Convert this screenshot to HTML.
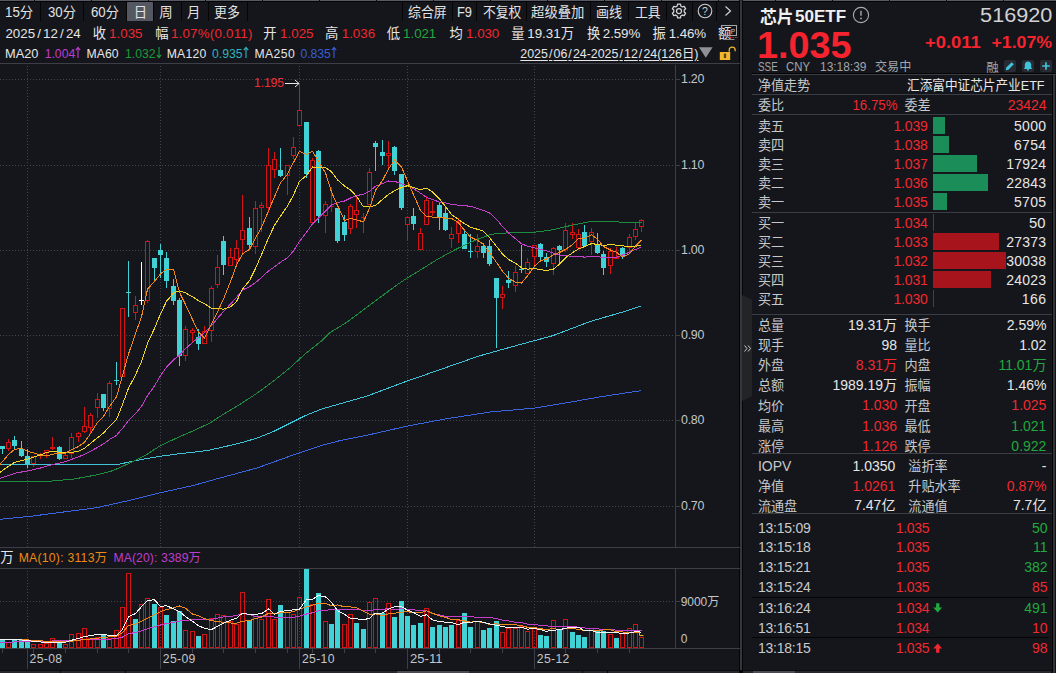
<!DOCTYPE html>
<html lang="zh-CN"><head><meta charset="utf-8"><title>芯片50ETF 516920</title>
<style>
html,body{margin:0;padding:0;background:#14161b;}
body{width:1056px;height:673px;position:relative;overflow:hidden;font-family:"Liberation Sans","Noto Sans CJK SC",sans-serif;}
.t{position:absolute;white-space:nowrap;line-height:1;}
</style></head>
<body>
<div style="position:absolute;left:0px;top:0px;width:1056px;height:1px;background:#585b66;"></div>
<div style="position:absolute;left:0px;top:1px;width:1056px;height:1px;background:#050506;"></div>
<div style="position:absolute;left:34px;top:0px;width:1px;height:1px;background:#0a0a0c;"></div>
<div style="position:absolute;left:91px;top:0px;width:1px;height:1px;background:#0a0a0c;"></div>
<div style="position:absolute;left:148px;top:0px;width:1px;height:1px;background:#0a0a0c;"></div>
<div style="position:absolute;left:205px;top:0px;width:1px;height:1px;background:#0a0a0c;"></div>
<div style="position:absolute;left:262px;top:0px;width:1px;height:1px;background:#0a0a0c;"></div>
<div style="position:absolute;left:319px;top:0px;width:1px;height:1px;background:#0a0a0c;"></div>
<div style="position:absolute;left:376px;top:0px;width:1px;height:1px;background:#0a0a0c;"></div>
<div style="position:absolute;left:433px;top:0px;width:1px;height:1px;background:#0a0a0c;"></div>
<div style="position:absolute;left:490px;top:0px;width:1px;height:1px;background:#0a0a0c;"></div>
<div style="position:absolute;left:547px;top:0px;width:1px;height:1px;background:#0a0a0c;"></div>
<div style="position:absolute;left:604px;top:0px;width:1px;height:1px;background:#0a0a0c;"></div>
<div style="position:absolute;left:661px;top:0px;width:1px;height:1px;background:#0a0a0c;"></div>
<div style="position:absolute;left:718px;top:0px;width:1px;height:1px;background:#0a0a0c;"></div>
<div style="position:absolute;left:775px;top:0px;width:1px;height:1px;background:#0a0a0c;"></div>
<div style="position:absolute;left:832px;top:0px;width:1px;height:1px;background:#0a0a0c;"></div>
<div style="position:absolute;left:889px;top:0px;width:1px;height:1px;background:#0a0a0c;"></div>
<div style="position:absolute;left:946px;top:0px;width:1px;height:1px;background:#0a0a0c;"></div>
<div style="position:absolute;left:1003px;top:0px;width:1px;height:1px;background:#0a0a0c;"></div>
<div style="position:absolute;left:40px;top:1px;width:1px;height:20px;background:#050506;"></div>
<div style="position:absolute;left:83px;top:1px;width:1px;height:20px;background:#050506;"></div>
<div style="position:absolute;left:126px;top:1px;width:1px;height:20px;background:#050506;"></div>
<div style="position:absolute;left:153px;top:1px;width:1px;height:20px;background:#050506;"></div>
<div style="position:absolute;left:181px;top:1px;width:1px;height:20px;background:#050506;"></div>
<div style="position:absolute;left:208px;top:1px;width:1px;height:20px;background:#050506;"></div>
<div style="position:absolute;left:247px;top:1px;width:1px;height:20px;background:#050506;"></div>
<div style="position:absolute;left:402px;top:1px;width:1px;height:20px;background:#050506;"></div>
<div style="position:absolute;left:452px;top:1px;width:1px;height:20px;background:#050506;"></div>
<div style="position:absolute;left:476px;top:1px;width:1px;height:20px;background:#050506;"></div>
<div style="position:absolute;left:526px;top:1px;width:1px;height:20px;background:#050506;"></div>
<div style="position:absolute;left:590px;top:1px;width:1px;height:20px;background:#050506;"></div>
<div style="position:absolute;left:628px;top:1px;width:1px;height:20px;background:#050506;"></div>
<div style="position:absolute;left:666px;top:1px;width:1px;height:20px;background:#050506;"></div>
<div style="position:absolute;left:692px;top:1px;width:1px;height:20px;background:#050506;"></div>
<div style="position:absolute;left:716px;top:1px;width:1px;height:20px;background:#050506;"></div>
<div style="position:absolute;left:127px;top:2px;width:26px;height:19px;background:#555762;"></div>
<div style="position:absolute;left:739px;top:0px;width:1px;height:673px;background:#050506;"></div>
<div style="position:absolute;left:740px;top:0px;width:2px;height:673px;background:#35363d;"></div>
<div style="position:absolute;left:742px;top:0px;width:1px;height:673px;background:#050506;"></div>
<svg width="12" height="110" style="position:absolute;left:742px;top:294px" viewBox="0 0 12 110"><path d="M0 1L10 6V102L0 107Z" fill="#232328"/><path d="M2.5 51.5l2.5 3l-2.5 3M6 51.5l2.5 3l-2.5 3" stroke="#c8c8cc" stroke-width="1" fill="none"/></svg>
<div style="position:absolute;left:752px;top:73px;width:304px;height:1px;background:#050506;"></div>
<div style="position:absolute;left:752px;top:74px;width:304px;height:1px;background:#3b3d44;"></div>
<div style="position:absolute;left:752px;top:94px;width:300px;height:1px;background:#3b3d44;"></div>
<div style="position:absolute;left:752px;top:114px;width:300px;height:1px;background:#3b3d44;"></div>
<div style="position:absolute;left:752px;top:212px;width:300px;height:1px;background:#3b3d44;"></div>
<div style="position:absolute;left:752px;top:314px;width:300px;height:1px;background:#3b3d44;"></div>
<div style="position:absolute;left:752px;top:453px;width:300px;height:1px;background:#3b3d44;"></div>
<div style="position:absolute;left:752px;top:513px;width:300px;height:1px;background:#3b3d44;"></div>
<div style="position:absolute;left:752px;top:597px;width:297px;height:1px;background:#050506;"></div>
<div style="position:absolute;left:752px;top:637px;width:297px;height:1px;background:#050506;"></div>
<div style="position:absolute;left:933px;top:117px;width:12.1px;height:17px;background:#1a8d58;"></div>
<div style="position:absolute;left:933px;top:136px;width:16.4px;height:17px;background:#1a8d58;"></div>
<div style="position:absolute;left:933px;top:155px;width:43.5px;height:17px;background:#1a8d58;"></div>
<div style="position:absolute;left:933px;top:174px;width:55.4px;height:17px;background:#1a8d58;"></div>
<div style="position:absolute;left:933px;top:193px;width:13.8px;height:17px;background:#1a8d58;"></div>
<div style="position:absolute;left:933px;top:214px;width:1px;height:17px;background:#a8141c;"></div>
<div style="position:absolute;left:933px;top:233px;width:66.4px;height:17px;background:#a8141c;"></div>
<div style="position:absolute;left:933px;top:252px;width:72.8px;height:17px;background:#a8141c;"></div>
<div style="position:absolute;left:933px;top:271px;width:58.3px;height:17px;background:#a8141c;"></div>
<div style="position:absolute;left:933px;top:290px;width:1px;height:17px;background:#a8141c;"></div>
<div style="position:absolute;left:0px;top:670px;width:1056px;height:1px;background:#0c0d10;"></div>
<div style="position:absolute;left:0px;top:671px;width:1056px;height:2px;background:#26272d;"></div>
<div style="position:absolute;left:397px;top:671px;width:72px;height:2px;background:#4a4b55;"></div>
<div style="position:absolute;left:753px;top:671px;width:42px;height:2px;background:#4a4b55;"></div>
<div style="position:absolute;left:1051px;top:671px;width:5px;height:2px;background:#14161b;"></div>
<div style="position:absolute;left:60px;top:671px;width:1px;height:2px;background:#050506;"></div>
<div style="position:absolute;left:125px;top:671px;width:1px;height:2px;background:#050506;"></div>
<div style="position:absolute;left:582px;top:671px;width:1px;height:2px;background:#050506;"></div>
<div style="position:absolute;left:607px;top:671px;width:1px;height:2px;background:#050506;"></div>
<div style="position:absolute;left:739px;top:670px;width:4px;height:3px;background:#050506;"></div>
<div style="position:absolute;left:1052px;top:75px;width:1px;height:598px;background:#050506;"></div>
<div style="position:absolute;left:1053px;top:75px;width:2px;height:598px;background:#34353b;"></div>
<div style="position:absolute;left:1055px;top:75px;width:1px;height:598px;background:#101216;"></div>
<svg width="740" height="673" viewBox="0 0 740 673" style="position:absolute;left:0;top:0">
<g stroke="#43454c" stroke-width="1" stroke-dasharray="1 2" shape-rendering="crispEdges"><line x1="0" y1="79.5" x2="675" y2="79.5"/><line x1="0" y1="165.5" x2="675" y2="165.5"/><line x1="0" y1="250.5" x2="675" y2="250.5"/><line x1="0" y1="335.5" x2="675" y2="335.5"/><line x1="0" y1="420.5" x2="675" y2="420.5"/><line x1="0" y1="506.5" x2="675" y2="506.5"/><line x1="0" y1="601.5" x2="675" y2="601.5"/><line x1="27.5" y1="66" x2="27.5" y2="547"/><line x1="27.5" y1="571" x2="27.5" y2="648"/><line x1="160.5" y1="66" x2="160.5" y2="547"/><line x1="160.5" y1="571" x2="160.5" y2="648"/><line x1="299.5" y1="66" x2="299.5" y2="547"/><line x1="299.5" y1="571" x2="299.5" y2="648"/><line x1="407.5" y1="66" x2="407.5" y2="547"/><line x1="407.5" y1="571" x2="407.5" y2="648"/><line x1="534.5" y1="66" x2="534.5" y2="547"/><line x1="534.5" y1="571" x2="534.5" y2="648"/></g>
<g stroke="#3e3f46" stroke-width="1" shape-rendering="crispEdges"><line x1="0" y1="63.5" x2="740" y2="63.5"/><line x1="0" y1="547.5" x2="740" y2="547.5"/><line x1="0" y1="568.5" x2="740" y2="568.5"/><line x1="0" y1="648.5" x2="740" y2="648.5"/><line x1="675.5" y1="65" x2="675.5" y2="547"/><line x1="675.5" y1="569" x2="675.5" y2="648"/><line x1="676" y1="79.5" x2="680" y2="79.5"/><line x1="676" y1="165.5" x2="680" y2="165.5"/><line x1="676" y1="250.5" x2="680" y2="250.5"/><line x1="676" y1="335.5" x2="680" y2="335.5"/><line x1="676" y1="420.5" x2="680" y2="420.5"/><line x1="676" y1="506.5" x2="680" y2="506.5"/><line x1="676" y1="601.5" x2="680" y2="601.5"/><line x1="27.5" y1="649" x2="27.5" y2="669"/><line x1="160.5" y1="649" x2="160.5" y2="669"/><line x1="299.5" y1="649" x2="299.5" y2="669"/><line x1="407.5" y1="649" x2="407.5" y2="669"/><line x1="534.5" y1="649" x2="534.5" y2="669"/><line x1="2.5" y1="649" x2="2.5" y2="653"/><line x1="33.5" y1="649" x2="33.5" y2="653"/><line x1="65.5" y1="649" x2="65.5" y2="653"/><line x1="97.5" y1="649" x2="97.5" y2="653"/><line x1="128.5" y1="649" x2="128.5" y2="653"/><line x1="192.5" y1="649" x2="192.5" y2="653"/><line x1="223.5" y1="649" x2="223.5" y2="653"/><line x1="255.5" y1="649" x2="255.5" y2="653"/><line x1="287.5" y1="649" x2="287.5" y2="653"/><line x1="312.5" y1="649" x2="312.5" y2="653"/><line x1="344.5" y1="649" x2="344.5" y2="653"/><line x1="375.5" y1="649" x2="375.5" y2="653"/><line x1="439.5" y1="649" x2="439.5" y2="653"/><line x1="470.5" y1="649" x2="470.5" y2="653"/><line x1="502.5" y1="649" x2="502.5" y2="653"/><line x1="565.5" y1="649" x2="565.5" y2="653"/><line x1="597.5" y1="649" x2="597.5" y2="653"/><line x1="629.5" y1="649" x2="629.5" y2="653"/></g>
<g shape-rendering="crispEdges"><rect x="2" y="446" width="1" height="8" fill="#40d2d4"/><rect x="0" y="446" width="5" height="3" fill="#40d2d4"/><rect x="8" y="439" width="1" height="3" fill="#d41414"/><rect x="8" y="449" width="1" height="2" fill="#d41414"/><rect x="6.5" y="442.5" width="4" height="6" fill="#14161b" stroke="#d41414" stroke-width="1"/><rect x="14" y="436" width="1" height="13" fill="#40d2d4"/><rect x="12" y="440" width="5" height="6" fill="#40d2d4"/><rect x="21" y="441" width="1" height="16" fill="#40d2d4"/><rect x="19" y="449" width="5" height="7" fill="#40d2d4"/><rect x="27" y="449" width="1" height="19" fill="#40d2d4"/><rect x="25" y="456" width="5" height="8" fill="#40d2d4"/><rect x="33" y="464" width="1" height="3" fill="#d41414"/><rect x="31.5" y="456.5" width="4" height="7" fill="#14161b" stroke="#d41414" stroke-width="1"/><rect x="40" y="453" width="1" height="1" fill="#d41414"/><rect x="40" y="456" width="1" height="3" fill="#d41414"/><rect x="38.5" y="454.5" width="4" height="1" fill="#14161b" stroke="#d41414" stroke-width="1"/><rect x="46" y="453" width="1" height="5" fill="#d41414"/><rect x="44.5" y="450.5" width="4" height="2" fill="#14161b" stroke="#d41414" stroke-width="1"/><rect x="52" y="437" width="1" height="13" fill="#d41414"/><rect x="50" y="447" width="5" height="2" fill="#d41414"/><rect x="59" y="446" width="1" height="14" fill="#40d2d4"/><rect x="57" y="447" width="5" height="12" fill="#40d2d4"/><rect x="65" y="452" width="1" height="3" fill="#d41414"/><rect x="63.5" y="455.5" width="4" height="3" fill="#14161b" stroke="#d41414" stroke-width="1"/><rect x="71" y="433" width="1" height="4" fill="#d41414"/><rect x="71" y="454" width="1" height="4" fill="#d41414"/><rect x="69.5" y="437.5" width="4" height="16" fill="#14161b" stroke="#d41414" stroke-width="1"/><rect x="78" y="432" width="1" height="1" fill="#d41414"/><rect x="78" y="437" width="1" height="5" fill="#d41414"/><rect x="76.5" y="433.5" width="4" height="3" fill="#14161b" stroke="#d41414" stroke-width="1"/><rect x="84" y="407" width="1" height="19" fill="#d41414"/><rect x="84" y="432" width="1" height="1" fill="#d41414"/><rect x="82.5" y="426.5" width="4" height="5" fill="#14161b" stroke="#d41414" stroke-width="1"/><rect x="90" y="413" width="1" height="2" fill="#d41414"/><rect x="90" y="428" width="1" height="5" fill="#d41414"/><rect x="88.5" y="415.5" width="4" height="12" fill="#14161b" stroke="#d41414" stroke-width="1"/><rect x="97" y="393" width="1" height="6" fill="#d41414"/><rect x="97" y="408" width="1" height="10" fill="#d41414"/><rect x="95.5" y="399.5" width="4" height="8" fill="#14161b" stroke="#d41414" stroke-width="1"/><rect x="103" y="394" width="1" height="17" fill="#40d2d4"/><rect x="101" y="394" width="5" height="14" fill="#40d2d4"/><rect x="109" y="381" width="1" height="2" fill="#d41414"/><rect x="109" y="409" width="1" height="8" fill="#d41414"/><rect x="107.5" y="383.5" width="4" height="25" fill="#14161b" stroke="#d41414" stroke-width="1"/><rect x="116" y="362" width="1" height="23" fill="#40d2d4"/><rect x="114" y="380" width="5" height="1" fill="#40d2d4"/><rect x="120.5" y="308.5" width="4" height="68" fill="#14161b" stroke="#d41414" stroke-width="1"/><rect x="128" y="261" width="1" height="56" fill="#40d2d4"/><rect x="126" y="292" width="5" height="1" fill="#40d2d4"/><rect x="135" y="296" width="1" height="9" fill="#d41414"/><rect x="135" y="313" width="1" height="7" fill="#d41414"/><rect x="133.5" y="305.5" width="4" height="7" fill="#14161b" stroke="#d41414" stroke-width="1"/><rect x="141" y="262" width="1" height="43" fill="#ffffff"/><rect x="139" y="300" width="5" height="1" fill="#ffffff"/><rect x="147" y="240" width="1" height="1" fill="#d41414"/><rect x="147" y="301" width="1" height="2" fill="#d41414"/><rect x="145.5" y="241.5" width="4" height="59" fill="#14161b" stroke="#d41414" stroke-width="1"/><rect x="154" y="258" width="1" height="22" fill="#40d2d4"/><rect x="152" y="258" width="5" height="10" fill="#40d2d4"/><rect x="160" y="244" width="1" height="34" fill="#40d2d4"/><rect x="158" y="250" width="5" height="5" fill="#40d2d4"/><rect x="166" y="252" width="1" height="36" fill="#40d2d4"/><rect x="164" y="258" width="5" height="23" fill="#40d2d4"/><rect x="173" y="279" width="1" height="26" fill="#40d2d4"/><rect x="171" y="286" width="5" height="15" fill="#40d2d4"/><rect x="179" y="298" width="1" height="68" fill="#40d2d4"/><rect x="177" y="300" width="5" height="56" fill="#40d2d4"/><rect x="185" y="326" width="1" height="3" fill="#d41414"/><rect x="185" y="356" width="1" height="5" fill="#d41414"/><rect x="183.5" y="329.5" width="4" height="26" fill="#14161b" stroke="#d41414" stroke-width="1"/><rect x="192" y="328" width="1" height="2" fill="#d41414"/><rect x="192" y="333" width="1" height="9" fill="#d41414"/><rect x="190.5" y="330.5" width="4" height="2" fill="#14161b" stroke="#d41414" stroke-width="1"/><rect x="198" y="329" width="1" height="21" fill="#40d2d4"/><rect x="196" y="337" width="5" height="7" fill="#40d2d4"/><rect x="204" y="326" width="1" height="5" fill="#d41414"/><rect x="202.5" y="331.5" width="4" height="12" fill="#14161b" stroke="#d41414" stroke-width="1"/><rect x="211" y="286" width="1" height="2" fill="#d41414"/><rect x="211" y="331" width="1" height="11" fill="#d41414"/><rect x="209.5" y="288.5" width="4" height="42" fill="#14161b" stroke="#d41414" stroke-width="1"/><rect x="217" y="255" width="1" height="12" fill="#d41414"/><rect x="217" y="285" width="1" height="3" fill="#d41414"/><rect x="215.5" y="267.5" width="4" height="17" fill="#14161b" stroke="#d41414" stroke-width="1"/><rect x="223" y="236" width="1" height="39" fill="#40d2d4"/><rect x="221" y="241" width="5" height="24" fill="#40d2d4"/><rect x="230" y="248" width="1" height="9" fill="#d41414"/><rect x="228.5" y="257.5" width="4" height="8" fill="#14161b" stroke="#d41414" stroke-width="1"/><rect x="236" y="240" width="1" height="8" fill="#d41414"/><rect x="236" y="260" width="1" height="5" fill="#d41414"/><rect x="234.5" y="248.5" width="4" height="11" fill="#14161b" stroke="#d41414" stroke-width="1"/><rect x="242" y="195" width="1" height="35" fill="#d41414"/><rect x="242" y="240" width="1" height="13" fill="#d41414"/><rect x="240.5" y="230.5" width="4" height="9" fill="#14161b" stroke="#d41414" stroke-width="1"/><rect x="249" y="217" width="1" height="31" fill="#40d2d4"/><rect x="247" y="228" width="5" height="17" fill="#40d2d4"/><rect x="255" y="201" width="1" height="7" fill="#d41414"/><rect x="255" y="247" width="1" height="7" fill="#d41414"/><rect x="253.5" y="208.5" width="4" height="38" fill="#14161b" stroke="#d41414" stroke-width="1"/><rect x="261" y="202" width="1" height="3" fill="#d41414"/><rect x="261" y="208" width="1" height="24" fill="#d41414"/><rect x="259.5" y="205.5" width="4" height="2" fill="#14161b" stroke="#d41414" stroke-width="1"/><rect x="268" y="148" width="1" height="17" fill="#d41414"/><rect x="268" y="208" width="1" height="5" fill="#d41414"/><rect x="266.5" y="165.5" width="4" height="42" fill="#14161b" stroke="#d41414" stroke-width="1"/><rect x="274" y="152" width="1" height="7" fill="#d41414"/><rect x="274" y="170" width="1" height="8" fill="#d41414"/><rect x="272.5" y="159.5" width="4" height="10" fill="#14161b" stroke="#d41414" stroke-width="1"/><rect x="280" y="148" width="1" height="29" fill="#40d2d4"/><rect x="278" y="170" width="5" height="6" fill="#40d2d4"/><rect x="287" y="176" width="1" height="19" fill="#d41414"/><rect x="285.5" y="165.5" width="4" height="10" fill="#14161b" stroke="#d41414" stroke-width="1"/><rect x="293" y="137" width="1" height="10" fill="#d41414"/><rect x="293" y="156" width="1" height="3" fill="#d41414"/><rect x="291.5" y="147.5" width="4" height="8" fill="#14161b" stroke="#d41414" stroke-width="1"/><rect x="299" y="83" width="1" height="27" fill="#d41414"/><rect x="297.5" y="110.5" width="4" height="15" fill="#14161b" stroke="#d41414" stroke-width="1"/><rect x="306" y="122" width="1" height="56" fill="#40d2d4"/><rect x="304" y="122" width="5" height="52" fill="#40d2d4"/><rect x="312" y="158" width="1" height="2" fill="#d41414"/><rect x="312" y="223" width="1" height="2" fill="#d41414"/><rect x="310.5" y="160.5" width="4" height="62" fill="#14161b" stroke="#d41414" stroke-width="1"/><rect x="318" y="150" width="1" height="73" fill="#40d2d4"/><rect x="316" y="151" width="5" height="65" fill="#40d2d4"/><rect x="325" y="201" width="1" height="3" fill="#d41414"/><rect x="325" y="216" width="1" height="17" fill="#d41414"/><rect x="323.5" y="204.5" width="4" height="11" fill="#14161b" stroke="#d41414" stroke-width="1"/><rect x="331" y="187" width="1" height="25" fill="#d41414"/><rect x="329" y="206" width="5" height="1" fill="#d41414"/><rect x="337" y="208" width="1" height="35" fill="#40d2d4"/><rect x="335" y="208" width="5" height="33" fill="#40d2d4"/><rect x="344" y="215" width="1" height="26" fill="#40d2d4"/><rect x="342" y="222" width="5" height="13" fill="#40d2d4"/><rect x="350" y="204" width="1" height="2" fill="#d41414"/><rect x="350" y="229" width="1" height="5" fill="#d41414"/><rect x="348.5" y="206.5" width="4" height="22" fill="#14161b" stroke="#d41414" stroke-width="1"/><rect x="356" y="197" width="1" height="13" fill="#d41414"/><rect x="356" y="215" width="1" height="13" fill="#d41414"/><rect x="354.5" y="210.5" width="4" height="4" fill="#14161b" stroke="#d41414" stroke-width="1"/><rect x="363" y="213" width="1" height="20" fill="#d41414"/><rect x="361" y="217" width="5" height="1" fill="#d41414"/><rect x="369" y="168" width="1" height="4" fill="#d41414"/><rect x="367.5" y="172.5" width="4" height="32" fill="#14161b" stroke="#d41414" stroke-width="1"/><rect x="375" y="141" width="1" height="30" fill="#40d2d4"/><rect x="373" y="143" width="5" height="4" fill="#40d2d4"/><rect x="382" y="140" width="1" height="25" fill="#40d2d4"/><rect x="380" y="152" width="5" height="4" fill="#40d2d4"/><rect x="388" y="141" width="1" height="12" fill="#d41414"/><rect x="388" y="156" width="1" height="12" fill="#d41414"/><rect x="386.5" y="153.5" width="4" height="2" fill="#14161b" stroke="#d41414" stroke-width="1"/><rect x="394" y="146" width="1" height="29" fill="#40d2d4"/><rect x="392" y="147" width="5" height="24" fill="#40d2d4"/><rect x="401" y="174" width="1" height="36" fill="#40d2d4"/><rect x="399" y="174" width="5" height="34" fill="#40d2d4"/><rect x="407" y="225" width="1" height="15" fill="#d41414"/><rect x="405.5" y="217.5" width="4" height="7" fill="#14161b" stroke="#d41414" stroke-width="1"/><rect x="413" y="208" width="1" height="22" fill="#40d2d4"/><rect x="411" y="216" width="5" height="8" fill="#40d2d4"/><rect x="420" y="228" width="1" height="5" fill="#d41414"/><rect x="418.5" y="233.5" width="4" height="16" fill="#14161b" stroke="#d41414" stroke-width="1"/><rect x="426" y="196" width="1" height="4" fill="#d41414"/><rect x="424.5" y="200.5" width="4" height="24" fill="#14161b" stroke="#d41414" stroke-width="1"/><rect x="432" y="201" width="1" height="15" fill="#d41414"/><rect x="430" y="211" width="5" height="2" fill="#d41414"/><rect x="439" y="202" width="1" height="28" fill="#40d2d4"/><rect x="437" y="205" width="5" height="12" fill="#40d2d4"/><rect x="445" y="206" width="1" height="25" fill="#40d2d4"/><rect x="443" y="213" width="5" height="17" fill="#40d2d4"/><rect x="451" y="227" width="1" height="7" fill="#d41414"/><rect x="451" y="239" width="1" height="9" fill="#d41414"/><rect x="449.5" y="234.5" width="4" height="4" fill="#14161b" stroke="#d41414" stroke-width="1"/><rect x="458" y="218" width="1" height="4" fill="#d41414"/><rect x="458" y="234" width="1" height="9" fill="#d41414"/><rect x="456.5" y="222.5" width="4" height="11" fill="#14161b" stroke="#d41414" stroke-width="1"/><rect x="464" y="230" width="1" height="19" fill="#40d2d4"/><rect x="462" y="234" width="5" height="15" fill="#40d2d4"/><rect x="470" y="234" width="1" height="24" fill="#40d2d4"/><rect x="468" y="251" width="5" height="1" fill="#40d2d4"/><rect x="477" y="234" width="1" height="12" fill="#d41414"/><rect x="477" y="252" width="1" height="6" fill="#d41414"/><rect x="475.5" y="246.5" width="4" height="5" fill="#14161b" stroke="#d41414" stroke-width="1"/><rect x="483" y="243" width="1" height="15" fill="#40d2d4"/><rect x="481" y="246" width="5" height="7" fill="#40d2d4"/><rect x="489" y="240" width="1" height="26" fill="#40d2d4"/><rect x="487" y="246" width="5" height="18" fill="#40d2d4"/><rect x="496" y="278" width="1" height="70" fill="#40d2d4"/><rect x="494" y="278" width="5" height="20" fill="#40d2d4"/><rect x="502" y="286" width="1" height="8" fill="#d41414"/><rect x="502" y="298" width="1" height="11" fill="#d41414"/><rect x="500.5" y="294.5" width="4" height="3" fill="#14161b" stroke="#d41414" stroke-width="1"/><rect x="508" y="271" width="1" height="17" fill="#40d2d4"/><rect x="506" y="280" width="5" height="3" fill="#40d2d4"/><rect x="515" y="266" width="1" height="6" fill="#d41414"/><rect x="515" y="286" width="1" height="6" fill="#d41414"/><rect x="513.5" y="272.5" width="4" height="13" fill="#14161b" stroke="#d41414" stroke-width="1"/><rect x="521" y="245" width="1" height="28" fill="#40d2d4"/><rect x="519" y="269" width="5" height="1" fill="#40d2d4"/><rect x="527" y="258" width="1" height="4" fill="#d41414"/><rect x="525.5" y="262.5" width="4" height="11" fill="#14161b" stroke="#d41414" stroke-width="1"/><rect x="534" y="257" width="1" height="10" fill="#d41414"/><rect x="532.5" y="245.5" width="4" height="11" fill="#14161b" stroke="#d41414" stroke-width="1"/><rect x="540" y="243" width="1" height="18" fill="#40d2d4"/><rect x="538" y="244" width="5" height="13" fill="#40d2d4"/><rect x="546" y="253" width="1" height="14" fill="#40d2d4"/><rect x="544" y="257" width="5" height="5" fill="#40d2d4"/><rect x="553" y="247" width="1" height="1" fill="#d41414"/><rect x="553" y="264" width="1" height="11" fill="#d41414"/><rect x="551.5" y="248.5" width="4" height="15" fill="#14161b" stroke="#d41414" stroke-width="1"/><rect x="559" y="245" width="1" height="18" fill="#40d2d4"/><rect x="557" y="246" width="5" height="4" fill="#40d2d4"/><rect x="565" y="223" width="1" height="7" fill="#d41414"/><rect x="565" y="250" width="1" height="2" fill="#d41414"/><rect x="563.5" y="230.5" width="4" height="19" fill="#14161b" stroke="#d41414" stroke-width="1"/><rect x="572" y="223" width="1" height="9" fill="#d41414"/><rect x="572" y="235" width="1" height="4" fill="#d41414"/><rect x="570.5" y="232.5" width="4" height="2" fill="#14161b" stroke="#d41414" stroke-width="1"/><rect x="578" y="229" width="1" height="5" fill="#d41414"/><rect x="578" y="248" width="1" height="2" fill="#d41414"/><rect x="576.5" y="234.5" width="4" height="13" fill="#14161b" stroke="#d41414" stroke-width="1"/><rect x="584" y="225" width="1" height="21" fill="#40d2d4"/><rect x="582" y="232" width="5" height="14" fill="#40d2d4"/><rect x="591" y="228" width="1" height="4" fill="#d41414"/><rect x="591" y="242" width="1" height="13" fill="#d41414"/><rect x="589.5" y="232.5" width="4" height="9" fill="#14161b" stroke="#d41414" stroke-width="1"/><rect x="597" y="233" width="1" height="21" fill="#40d2d4"/><rect x="595" y="244" width="5" height="9" fill="#40d2d4"/><rect x="603" y="251" width="1" height="24" fill="#40d2d4"/><rect x="601" y="254" width="5" height="14" fill="#40d2d4"/><rect x="610" y="248" width="1" height="3" fill="#d41414"/><rect x="610" y="266" width="1" height="8" fill="#d41414"/><rect x="608.5" y="251.5" width="4" height="14" fill="#14161b" stroke="#d41414" stroke-width="1"/><rect x="616" y="247" width="1" height="12" fill="#d41414"/><rect x="614" y="257" width="5" height="2" fill="#d41414"/><rect x="622" y="247" width="1" height="12" fill="#40d2d4"/><rect x="620" y="248" width="5" height="8" fill="#40d2d4"/><rect x="629" y="234" width="1" height="3" fill="#d41414"/><rect x="629" y="248" width="1" height="4" fill="#d41414"/><rect x="627.5" y="237.5" width="4" height="10" fill="#14161b" stroke="#d41414" stroke-width="1"/><rect x="635" y="223" width="1" height="6" fill="#d41414"/><rect x="635" y="237" width="1" height="3" fill="#d41414"/><rect x="633.5" y="229.5" width="4" height="7" fill="#14161b" stroke="#d41414" stroke-width="1"/><rect x="641" y="219" width="1" height="1" fill="#d41414"/><rect x="641" y="227" width="1" height="5" fill="#d41414"/><rect x="639.5" y="220.5" width="4" height="6" fill="#14161b" stroke="#d41414" stroke-width="1"/></g>
<polyline points="0.0,519.3 32.2,516.1 64.4,511.9 96.6,507.7 128.8,500.6 161.0,492.6 193.2,485.5 225.4,476.5 257.6,467.8 289.8,456.2 322.0,445.3 340.0,440.6 370.3,434.5 407.3,426.1 446.0,418.8 491.5,411.8 534.0,408.2 567.3,402.7 597.6,397.3 627.3,392.7 641.5,390.6" fill="none" stroke="#3a64e0" stroke-width="1" stroke-linejoin="round" shape-rendering="crispEdges"/>
<polyline points="0.0,464.3 119.0,464.3 128.8,462.0 144.9,458.8 161.0,456.2 177.0,454.0 193.2,452.3 209.3,450.1 225.4,446.5 241.5,442.7 257.6,437.9 273.7,431.4 289.8,423.4 305.9,415.3 322.0,408.9 340.0,403.8 367.2,396.0 404.3,382.1 441.5,369.1 478.6,356.1 515.8,345.7 553.0,335.6 590.1,321.5 627.3,310.7 641.5,305.9" fill="none" stroke="#3ec4d6" stroke-width="1" stroke-linejoin="round" shape-rendering="crispEdges"/>
<polyline points="0.0,481.3 48.3,481.3 74.0,479.0 96.6,474.9 112.7,470.7 128.8,463.6 144.9,455.6 161.0,445.3 177.0,437.9 193.2,430.8 209.3,423.4 225.4,413.0 241.5,403.4 257.6,392.8 273.7,380.9 289.8,368.0 305.9,353.2 322.0,340.6 330.0,332.6 347.8,321.6 365.6,308.2 383.5,294.9 395.9,285.6 407.5,277.9 419.1,270.8 436.9,259.6 454.8,249.9 463.7,245.5 472.6,241.4 481.5,237.8 490.4,234.6 499.3,233.2 515.8,232.7 534.4,232.3 553.0,229.7 571.5,225.3 590.1,221.6 608.7,221.6 627.3,222.3 641.5,223.0" fill="none" stroke="#1d8c3e" stroke-width="1" stroke-linejoin="round" shape-rendering="crispEdges"/>
<polyline points="-4.0,479.8 2.5,477.5 8.5,475.4 14.5,473.4 21.5,472.0 27.5,471.0 33.5,469.6 40.5,468.0 46.5,466.3 52.5,464.4 59.5,463.2 65.5,461.7 71.5,459.4 78.5,456.8 84.5,454.4 90.5,451.2 97.5,447.4 103.5,443.9 109.5,439.5 116.5,435.4 122.5,428.4 128.5,420.6 135.5,413.7 141.5,406.4 147.5,395.7 154.5,385.9 160.5,375.8 166.5,367.2 173.5,359.8 179.5,355.2 185.5,348.7 192.5,342.4 198.5,337.8 204.5,332.7 211.5,325.7 217.5,318.3 223.5,311.6 230.5,304.1 236.5,297.4 242.5,289.9 249.5,286.8 255.5,282.6 261.5,277.6 268.5,270.9 274.5,266.8 280.5,262.2 287.5,257.7 293.5,250.9 299.5,241.4 306.5,232.3 312.5,223.8 318.5,218.2 325.5,211.1 331.5,204.9 337.5,202.6 344.5,201.0 350.5,198.0 356.5,195.7 363.5,194.1 369.5,191.2 375.5,186.2 382.5,183.6 388.5,181.0 394.5,181.3 401.5,183.7 407.5,185.8 413.5,188.7 420.5,193.1 426.5,197.6 432.5,199.4 439.5,202.2 445.5,202.9 451.5,204.4 458.5,205.2 464.5,205.6 470.5,206.4 477.5,208.4 483.5,210.5 489.5,212.9 496.5,219.2 502.5,226.5 508.5,232.9 515.5,238.8 521.5,243.7 527.5,246.4 534.5,247.8 540.5,249.5 546.5,250.9 553.5,253.3 559.5,255.3 565.5,255.9 572.5,256.1 578.5,256.0 584.5,257.2 591.5,256.4 597.5,256.5 603.5,257.6 610.5,257.5 616.5,257.1 622.5,255.0 629.5,252.2 635.5,249.5 641.5,246.9" fill="none" stroke="#c63fcb" stroke-width="1" stroke-linejoin="round" shape-rendering="crispEdges"/>
<polyline points="-4.0,475.1 2.5,470.5 8.5,466.3 14.5,462.4 21.5,460.5 27.5,459.1 33.5,457.1 40.5,454.8 46.5,452.6 52.5,451.2 59.5,452.3 65.5,452.9 71.5,452.5 78.5,451.2 84.5,448.3 90.5,443.4 97.5,437.7 103.5,433.1 109.5,426.4 116.5,419.7 122.5,404.5 128.5,388.2 135.5,375.0 141.5,361.6 147.5,343.1 154.5,328.4 160.5,314.0 166.5,301.3 173.5,293.1 179.5,290.8 185.5,292.9 192.5,296.7 198.5,300.6 204.5,303.7 211.5,308.3 217.5,308.3 223.5,309.3 230.5,306.9 236.5,301.6 242.5,289.1 249.5,280.7 255.5,268.5 261.5,254.6 268.5,238.1 274.5,225.2 280.5,216.1 287.5,206.1 293.5,195.0 299.5,181.2 306.5,175.5 312.5,167.0 318.5,167.8 325.5,167.6 331.5,171.8 337.5,179.9 344.5,185.9 350.5,190.0 356.5,196.3 363.5,207.0 369.5,206.8 375.5,205.5 382.5,199.4 388.5,194.4 394.5,190.9 401.5,187.5 407.5,185.7 413.5,187.5 420.5,189.8 426.5,188.1 432.5,192.0 439.5,199.0 445.5,206.4 451.5,214.4 458.5,219.6 464.5,223.7 470.5,227.1 477.5,229.3 483.5,231.3 489.5,237.7 496.5,246.3 502.5,254.1 508.5,259.4 515.5,263.2 521.5,267.9 527.5,269.1 534.5,268.6 540.5,269.6 546.5,270.6 553.5,269.0 559.5,264.2 565.5,257.8 572.5,252.7 578.5,248.9 584.5,246.6 591.5,243.6 597.5,244.4 603.5,245.5 610.5,244.4 616.5,245.3 622.5,245.8 629.5,246.6 635.5,246.3 641.5,244.9" fill="none" stroke="#f0d626" stroke-width="1" stroke-linejoin="round" shape-rendering="crispEdges"/>
<polyline points="-4.0,469.2 2.5,461.5 8.5,454.4 14.5,449.4 21.5,448.2 27.5,451.4 33.5,452.7 40.5,455.2 46.5,455.9 52.5,454.2 59.5,453.2 65.5,453.1 71.5,449.8 78.5,446.5 84.5,442.3 90.5,433.5 97.5,422.3 103.5,416.3 109.5,406.4 116.5,397.0 122.5,375.5 128.5,354.0 135.5,333.6 141.5,316.8 147.5,289.2 154.5,281.2 160.5,273.9 166.5,269.1 173.5,269.3 179.5,292.3 185.5,304.6 192.5,319.5 198.5,332.1 204.5,338.1 211.5,324.3 217.5,311.9 223.5,299.1 230.5,281.7 236.5,265.2 242.5,253.8 249.5,249.4 255.5,238.0 261.5,227.6 268.5,210.9 274.5,196.6 280.5,182.8 287.5,174.2 293.5,162.4 299.5,151.4 306.5,154.4 312.5,151.2 318.5,161.4 325.5,172.8 331.5,192.1 337.5,205.5 344.5,220.5 350.5,218.5 356.5,219.8 363.5,221.9 369.5,208.1 375.5,190.4 382.5,180.4 388.5,169.0 394.5,159.9 401.5,166.9 407.5,181.0 413.5,194.6 420.5,210.6 426.5,216.4 432.5,217.1 439.5,217.0 445.5,218.2 451.5,218.3 458.5,222.7 464.5,230.3 470.5,237.1 477.5,240.4 483.5,244.2 489.5,252.6 496.5,262.4 502.5,271.1 508.5,278.3 515.5,282.1 521.5,283.1 527.5,275.9 534.5,266.1 540.5,260.9 546.5,259.0 553.5,254.9 559.5,252.5 565.5,249.5 572.5,244.6 578.5,238.8 584.5,238.3 591.5,234.7 597.5,239.3 603.5,246.5 610.5,250.0 616.5,252.3 622.5,257.0 629.5,253.8 635.5,246.1 641.5,239.9" fill="none" stroke="#f08a1e" stroke-width="1" stroke-linejoin="round" shape-rendering="crispEdges"/>
<g stroke="#e8e8e8" stroke-width="1" fill="none"><path d="M285 83.5H299M295 80l4 3.5l-4 3.5"/></g>
<g shape-rendering="crispEdges"><rect x="0" y="640" width="5" height="8" fill="#40d2d4"/><rect x="6.5" y="642.5" width="4" height="5" fill="none" stroke="#d41414" stroke-width="1"/><rect x="12" y="640" width="5" height="8" fill="#40d2d4"/><rect x="19" y="640" width="5" height="8" fill="#40d2d4"/><rect x="25" y="642" width="5" height="6" fill="#40d2d4"/><rect x="31.5" y="644.5" width="4" height="3" fill="none" stroke="#d41414" stroke-width="1"/><rect x="38.5" y="644.5" width="4" height="3" fill="none" stroke="#d41414" stroke-width="1"/><rect x="44.5" y="643.5" width="4" height="4" fill="none" stroke="#d41414" stroke-width="1"/><rect x="50.5" y="638.5" width="4" height="9" fill="none" stroke="#d41414" stroke-width="1"/><rect x="57" y="643" width="5" height="5" fill="#40d2d4"/><rect x="63.5" y="644.5" width="4" height="3" fill="none" stroke="#d41414" stroke-width="1"/><rect x="69.5" y="634.5" width="4" height="13" fill="none" stroke="#d41414" stroke-width="1"/><rect x="76.5" y="633.5" width="4" height="14" fill="none" stroke="#d41414" stroke-width="1"/><rect x="82.5" y="628.5" width="4" height="19" fill="none" stroke="#d41414" stroke-width="1"/><rect x="88.5" y="638.5" width="4" height="9" fill="none" stroke="#d41414" stroke-width="1"/><rect x="95.5" y="637.5" width="4" height="10" fill="none" stroke="#d41414" stroke-width="1"/><rect x="101" y="635" width="5" height="13" fill="#40d2d4"/><rect x="107.5" y="638.5" width="4" height="9" fill="none" stroke="#d41414" stroke-width="1"/><rect x="114.5" y="630.5" width="4" height="17" fill="none" stroke="#d41414" stroke-width="1"/><rect x="120.5" y="607.5" width="4" height="40" fill="none" stroke="#d41414" stroke-width="1"/><rect x="126.5" y="573.5" width="4" height="74" fill="none" stroke="#d41414" stroke-width="1"/><rect x="133" y="619" width="5" height="29" fill="#40d2d4"/><rect x="139.5" y="604.5" width="4" height="43" fill="none" stroke="#d41414" stroke-width="1"/><rect x="145.5" y="598.5" width="4" height="49" fill="none" stroke="#d41414" stroke-width="1"/><rect x="152" y="604" width="5" height="44" fill="#40d2d4"/><rect x="158.5" y="607.5" width="4" height="40" fill="none" stroke="#d41414" stroke-width="1"/><rect x="164" y="615" width="5" height="33" fill="#40d2d4"/><rect x="171" y="621" width="5" height="27" fill="#40d2d4"/><rect x="177" y="611" width="5" height="37" fill="#40d2d4"/><rect x="183.5" y="630.5" width="4" height="17" fill="none" stroke="#d41414" stroke-width="1"/><rect x="190.5" y="631.5" width="4" height="16" fill="none" stroke="#d41414" stroke-width="1"/><rect x="196" y="636" width="5" height="12" fill="#40d2d4"/><rect x="202.5" y="634.5" width="4" height="13" fill="none" stroke="#d41414" stroke-width="1"/><rect x="209.5" y="618.5" width="4" height="29" fill="none" stroke="#d41414" stroke-width="1"/><rect x="215.5" y="614.5" width="4" height="33" fill="none" stroke="#d41414" stroke-width="1"/><rect x="221.5" y="615.5" width="4" height="32" fill="none" stroke="#d41414" stroke-width="1"/><rect x="228.5" y="621.5" width="4" height="26" fill="none" stroke="#d41414" stroke-width="1"/><rect x="234.5" y="624.5" width="4" height="23" fill="none" stroke="#d41414" stroke-width="1"/><rect x="240.5" y="592.5" width="4" height="55" fill="none" stroke="#d41414" stroke-width="1"/><rect x="247" y="620" width="5" height="28" fill="#40d2d4"/><rect x="253.5" y="614.5" width="4" height="33" fill="none" stroke="#d41414" stroke-width="1"/><rect x="259.5" y="619.5" width="4" height="28" fill="none" stroke="#d41414" stroke-width="1"/><rect x="266.5" y="599.5" width="4" height="48" fill="none" stroke="#d41414" stroke-width="1"/><rect x="272.5" y="619.5" width="4" height="28" fill="none" stroke="#d41414" stroke-width="1"/><rect x="278" y="605" width="5" height="43" fill="#40d2d4"/><rect x="285.5" y="612.5" width="4" height="35" fill="none" stroke="#d41414" stroke-width="1"/><rect x="291.5" y="614.5" width="4" height="33" fill="none" stroke="#d41414" stroke-width="1"/><rect x="297.5" y="597.5" width="4" height="50" fill="none" stroke="#d41414" stroke-width="1"/><rect x="304" y="569" width="5" height="79" fill="#40d2d4"/><rect x="310.5" y="604.5" width="4" height="43" fill="none" stroke="#d41414" stroke-width="1"/><rect x="316" y="593" width="5" height="55" fill="#40d2d4"/><rect x="323.5" y="621.5" width="4" height="26" fill="none" stroke="#d41414" stroke-width="1"/><rect x="329" y="624" width="5" height="24" fill="#40d2d4"/><rect x="335" y="610" width="5" height="38" fill="#40d2d4"/><rect x="342.5" y="624.5" width="4" height="23" fill="none" stroke="#d41414" stroke-width="1"/><rect x="348.5" y="614.5" width="4" height="33" fill="none" stroke="#d41414" stroke-width="1"/><rect x="354" y="623" width="5" height="25" fill="#40d2d4"/><rect x="361" y="629" width="5" height="19" fill="#40d2d4"/><rect x="367.5" y="602.5" width="4" height="45" fill="none" stroke="#d41414" stroke-width="1"/><rect x="373.5" y="598.5" width="4" height="49" fill="none" stroke="#d41414" stroke-width="1"/><rect x="380" y="613" width="5" height="35" fill="#40d2d4"/><rect x="386.5" y="603.5" width="4" height="44" fill="none" stroke="#d41414" stroke-width="1"/><rect x="392" y="617" width="5" height="31" fill="#40d2d4"/><rect x="399" y="601" width="5" height="47" fill="#40d2d4"/><rect x="405" y="616" width="5" height="32" fill="#40d2d4"/><rect x="411" y="625" width="5" height="23" fill="#40d2d4"/><rect x="418" y="623" width="5" height="25" fill="#40d2d4"/><rect x="424.5" y="608.5" width="4" height="39" fill="none" stroke="#d41414" stroke-width="1"/><rect x="430" y="627" width="5" height="21" fill="#40d2d4"/><rect x="437" y="625" width="5" height="23" fill="#40d2d4"/><rect x="443" y="627" width="5" height="21" fill="#40d2d4"/><rect x="449" y="625" width="5" height="23" fill="#40d2d4"/><rect x="456.5" y="620.5" width="4" height="27" fill="none" stroke="#d41414" stroke-width="1"/><rect x="462" y="613" width="5" height="35" fill="#40d2d4"/><rect x="468" y="627" width="5" height="21" fill="#40d2d4"/><rect x="475.5" y="621.5" width="4" height="26" fill="none" stroke="#d41414" stroke-width="1"/><rect x="481" y="630" width="5" height="18" fill="#40d2d4"/><rect x="487" y="628" width="5" height="20" fill="#40d2d4"/><rect x="494" y="621" width="5" height="27" fill="#40d2d4"/><rect x="500.5" y="632.5" width="4" height="15" fill="none" stroke="#d41414" stroke-width="1"/><rect x="506.5" y="628.5" width="4" height="19" fill="none" stroke="#d41414" stroke-width="1"/><rect x="513.5" y="628.5" width="4" height="19" fill="none" stroke="#d41414" stroke-width="1"/><rect x="519.5" y="626.5" width="4" height="21" fill="none" stroke="#d41414" stroke-width="1"/><rect x="525.5" y="631.5" width="4" height="16" fill="none" stroke="#d41414" stroke-width="1"/><rect x="532.5" y="628.5" width="4" height="19" fill="none" stroke="#d41414" stroke-width="1"/><rect x="538" y="635" width="5" height="13" fill="#40d2d4"/><rect x="544" y="636" width="5" height="12" fill="#40d2d4"/><rect x="551.5" y="620.5" width="4" height="27" fill="none" stroke="#d41414" stroke-width="1"/><rect x="557" y="630" width="5" height="18" fill="#40d2d4"/><rect x="563.5" y="619.5" width="4" height="28" fill="none" stroke="#d41414" stroke-width="1"/><rect x="570" y="632" width="5" height="16" fill="#40d2d4"/><rect x="576" y="635" width="5" height="13" fill="#40d2d4"/><rect x="582" y="637" width="5" height="11" fill="#40d2d4"/><rect x="589.5" y="628.5" width="4" height="19" fill="none" stroke="#d41414" stroke-width="1"/><rect x="595" y="631" width="5" height="17" fill="#40d2d4"/><rect x="601" y="631" width="5" height="17" fill="#40d2d4"/><rect x="608.5" y="634.5" width="4" height="13" fill="none" stroke="#d41414" stroke-width="1"/><rect x="614" y="638" width="5" height="10" fill="#40d2d4"/><rect x="620.5" y="633.5" width="4" height="14" fill="none" stroke="#d41414" stroke-width="1"/><rect x="627.5" y="628.5" width="4" height="19" fill="none" stroke="#d41414" stroke-width="1"/><rect x="633.5" y="624.5" width="4" height="23" fill="none" stroke="#d41414" stroke-width="1"/><rect x="639.5" y="637.5" width="4" height="10" fill="none" stroke="#d41414" stroke-width="1"/></g>
<polyline points="-4.0,642.7 2.5,642.5 8.5,642.3 14.5,642.0 21.5,641.7 27.5,641.6 33.5,641.5 40.5,641.5 46.5,641.3 52.5,641.0 59.5,640.8 65.5,640.8 71.5,640.5 78.5,640.1 84.5,639.6 90.5,639.5 97.5,639.3 103.5,639.1 109.5,639.1 116.5,638.6 122.5,637.0 128.5,633.7 135.5,632.5 141.5,630.8 147.5,628.7 154.5,626.8 160.5,625.0 166.5,623.5 173.5,622.4 179.5,621.1 185.5,620.4 192.5,619.7 198.5,619.8 204.5,619.9 211.5,619.3 217.5,618.1 223.5,617.0 230.5,616.3 236.5,615.5 242.5,613.7 249.5,614.3 255.5,616.4 261.5,616.3 268.5,616.1 274.5,617.1 280.5,617.1 287.5,617.4 293.5,617.4 299.5,616.2 306.5,614.0 312.5,612.8 318.5,610.9 325.5,610.2 331.5,609.7 337.5,609.3 344.5,609.8 350.5,609.7 356.5,609.8 363.5,610.1 369.5,610.6 375.5,609.5 382.5,609.4 388.5,608.6 394.5,609.5 401.5,608.7 407.5,609.2 413.5,609.9 420.5,610.3 426.5,610.9 432.5,613.8 439.5,614.8 445.5,616.5 451.5,616.7 458.5,616.5 464.5,616.7 470.5,616.8 477.5,617.2 483.5,617.6 489.5,617.5 496.5,618.5 502.5,620.2 508.5,621.0 515.5,622.2 521.5,622.6 527.5,624.1 534.5,624.8 540.5,625.2 546.5,625.9 553.5,626.5 559.5,626.6 565.5,626.4 572.5,626.6 578.5,627.1 584.5,628.0 591.5,628.7 597.5,628.9 603.5,629.4 610.5,629.6 616.5,630.1 622.5,630.7 629.5,630.5 635.5,630.4 641.5,630.8" fill="none" stroke="#c63fcb" stroke-width="1" stroke-linejoin="round" shape-rendering="crispEdges"/>
<polyline points="-4.0,639.4 2.5,639.6 8.5,639.8 14.5,639.8 21.5,639.8 27.5,639.9 33.5,640.4 40.5,640.9 46.5,641.2 52.5,641.1 59.5,641.4 65.5,641.9 71.5,641.1 78.5,640.5 84.5,639.3 90.5,639.0 97.5,638.3 103.5,637.4 109.5,636.9 116.5,636.1 122.5,632.6 128.5,625.5 135.5,624.0 141.5,621.1 147.5,618.1 154.5,614.7 160.5,611.6 166.5,609.6 173.5,607.8 179.5,606.0 185.5,608.2 192.5,614.0 198.5,615.6 204.5,618.6 211.5,620.6 217.5,621.5 223.5,622.3 230.5,623.0 236.5,623.3 242.5,621.3 249.5,620.4 255.5,618.7 261.5,617.0 268.5,613.5 274.5,613.6 280.5,612.8 287.5,612.5 293.5,611.7 299.5,609.1 306.5,606.8 312.5,605.2 318.5,603.1 325.5,603.4 331.5,605.8 337.5,604.9 344.5,606.8 350.5,606.9 356.5,607.9 363.5,611.1 369.5,614.4 375.5,613.8 382.5,615.8 388.5,613.9 394.5,613.2 401.5,612.4 407.5,611.6 413.5,612.8 420.5,612.8 426.5,610.7 432.5,613.2 439.5,615.9 445.5,617.3 451.5,619.5 458.5,619.8 464.5,621.0 470.5,622.1 477.5,621.7 483.5,622.4 489.5,624.4 496.5,623.8 502.5,624.5 508.5,624.6 515.5,624.9 521.5,625.5 527.5,627.3 534.5,627.4 540.5,628.8 546.5,629.4 553.5,628.6 559.5,629.5 565.5,628.2 572.5,628.6 578.5,629.3 584.5,630.4 591.5,630.1 597.5,630.4 603.5,630.0 610.5,629.9 616.5,631.7 622.5,631.9 629.5,632.9 635.5,632.1 641.5,632.3" fill="none" stroke="#f08a1e" stroke-width="1" stroke-linejoin="round" shape-rendering="crispEdges"/>
<polyline points="-4.0,638.7 2.5,639.3 8.5,639.8 14.5,639.9 21.5,640.0 27.5,640.5 33.5,641.4 40.5,641.9 46.5,642.6 52.5,642.1 59.5,642.3 65.5,642.3 71.5,640.3 78.5,638.4 84.5,636.6 90.5,635.7 97.5,634.2 103.5,634.5 109.5,635.5 116.5,635.7 122.5,629.5 128.5,616.7 135.5,613.5 141.5,606.7 147.5,600.5 154.5,599.8 160.5,606.5 166.5,605.6 173.5,608.9 179.5,611.5 185.5,616.6 192.5,621.4 198.5,625.7 204.5,628.4 211.5,629.6 217.5,626.4 223.5,623.2 230.5,620.3 236.5,618.2 242.5,613.1 249.5,614.4 255.5,614.3 261.5,613.7 268.5,608.9 274.5,614.2 280.5,611.2 287.5,610.8 293.5,609.8 299.5,609.3 306.5,599.3 312.5,599.2 318.5,595.4 325.5,596.9 331.5,602.3 337.5,610.6 344.5,614.4 350.5,618.5 356.5,618.8 363.5,619.8 369.5,618.2 375.5,613.1 382.5,613.0 388.5,609.1 394.5,606.7 401.5,606.6 407.5,610.1 413.5,612.5 420.5,616.5 426.5,614.7 432.5,619.9 439.5,621.7 445.5,622.1 451.5,622.5 458.5,624.8 464.5,622.1 470.5,622.4 477.5,621.3 483.5,622.3 489.5,623.9 496.5,625.4 502.5,626.5 508.5,627.9 515.5,627.5 521.5,627.1 527.5,629.2 534.5,628.4 540.5,629.7 546.5,631.3 553.5,630.1 559.5,629.9 565.5,628.1 572.5,627.5 578.5,627.3 584.5,630.7 591.5,630.3 597.5,632.7 603.5,632.6 610.5,632.4 616.5,632.7 622.5,633.5 629.5,633.0 635.5,631.6 641.5,632.2" fill="none" stroke="#f4f4f4" stroke-width="1" stroke-linejoin="round" shape-rendering="crispEdges"/>
<path d="M639.5 632v3.5h4" stroke="#e8c020" stroke-width="1" fill="none"/>
</svg>

<span class="t" style="top:5.15px;font-size:14px;color:#e2e2e4;left:4.90px;transform:scaleX(0.9534);transform-origin:left 50%;">15分</span>
<span class="t" style="top:5.15px;font-size:14px;color:#e2e2e4;left:47.90px;transform:scaleX(0.9433);transform-origin:left 50%;">30分</span>
<span class="t" style="top:5.15px;font-size:14px;color:#e2e2e4;left:90.60px;transform:scaleX(0.9433);transform-origin:left 50%;">60分</span>
<span class="t" style="top:5.72px;font-size:13.33px;color:#e2e2e4;left:133.70px;">日</span>
<span class="t" style="top:5.72px;font-size:13.33px;color:#e2e2e4;left:159.30px;">周</span>
<span class="t" style="top:5.72px;font-size:13.33px;color:#e2e2e4;left:187.00px;">月</span>
<span class="t" style="top:5.72px;font-size:13.33px;color:#e2e2e4;left:214.20px;transform:scaleX(0.9716);transform-origin:left 50%;">更多</span>
<span class="t" style="top:5.72px;font-size:13.33px;color:#e2e2e4;left:408.00px;transform:scaleX(0.9704);transform-origin:left 50%;">综合屏</span>
<span class="t" style="top:5.15px;font-size:14px;color:#e2e2e4;left:457.20px;transform:scaleX(0.9178);transform-origin:left 50%;">F9</span>
<span class="t" style="top:5.72px;font-size:13.33px;color:#e2e2e4;left:482.60px;transform:scaleX(0.9604);transform-origin:left 50%;">不复权</span>
<span class="t" style="top:5.72px;font-size:13.33px;color:#e2e2e4;left:531.10px;letter-spacing:-0.037px;">超级叠加</span>
<span class="t" style="top:5.72px;font-size:13.33px;color:#e2e2e4;left:595.90px;transform:scaleX(0.9754);transform-origin:left 50%;">画线</span>
<span class="t" style="top:5.72px;font-size:13.33px;color:#e2e2e4;left:634.80px;transform:scaleX(0.9604);transform-origin:left 50%;">工具</span>
<span class="t" style="top:26.52px;font-size:13.33px;color:#e6e6e6;left:5.40px;">2025<i style="font-style:normal;padding:0 2.17px">/</i>12<i style="font-style:normal;padding:0 2.17px">/</i>24</span>
<span class="t" style="top:26.52px;font-size:13.33px;color:#e6e6e6;left:92.80px;">收</span>
<span class="t" style="top:26.52px;font-size:13.33px;color:#f0282f;left:109.00px;letter-spacing:0.035px;">1.035</span>
<span class="t" style="top:26.52px;font-size:13.33px;color:#e6e6e6;left:155.30px;">幅</span>
<span class="t" style="top:26.52px;font-size:13.33px;color:#f0282f;left:170.90px;letter-spacing:0.223px;">1.07%(0.011)</span>
<span class="t" style="top:26.52px;font-size:13.33px;color:#e6e6e6;left:263.30px;">开</span>
<span class="t" style="top:26.52px;font-size:13.33px;color:#f0282f;left:280.00px;letter-spacing:0.035px;">1.025</span>
<span class="t" style="top:26.52px;font-size:13.33px;color:#e6e6e6;left:325.00px;">高</span>
<span class="t" style="top:26.52px;font-size:13.33px;color:#f0282f;left:341.70px;letter-spacing:0.035px;">1.036</span>
<span class="t" style="top:26.52px;font-size:13.33px;color:#e6e6e6;left:386.80px;">低</span>
<span class="t" style="top:26.52px;font-size:13.33px;color:#22a83e;left:403.10px;letter-spacing:-0.040px;">1.021</span>
<span class="t" style="top:26.52px;font-size:13.33px;color:#e6e6e6;left:449.40px;">均</span>
<span class="t" style="top:26.52px;font-size:13.33px;color:#f0282f;left:466.10px;letter-spacing:-0.040px;">1.030</span>
<span class="t" style="top:26.52px;font-size:13.33px;color:#e6e6e6;left:511.30px;">量</span>
<span class="t" style="top:26.52px;font-size:13.33px;color:#e6e6e6;left:527.20px;letter-spacing:0.042px;">19.31万</span>
<span class="t" style="top:26.52px;font-size:13.33px;color:#e6e6e6;left:586.90px;">换</span>
<span class="t" style="top:26.52px;font-size:13.33px;color:#e6e6e6;left:602.80px;letter-spacing:-0.074px;">2.59%</span>
<span class="t" style="top:26.52px;font-size:13.33px;color:#e6e6e6;left:652.40px;">振</span>
<span class="t" style="top:26.52px;font-size:13.33px;color:#e6e6e6;left:668.70px;letter-spacing:-0.074px;">1.46%</span>
<span class="t" style="top:26.52px;font-size:13.33px;color:#e6e6e6;left:718.00px;">额</span>
<span class="t" style="top:47.87px;font-size:12.2px;color:#e6e6e6;left:4.50px;transform:scaleX(1.0489);transform-origin:left 50%;">MA20</span>
<span class="t" style="top:47.87px;font-size:12.2px;color:#c03ccc;left:44.70px;">1.004</span>
<span class="t" style="top:47.87px;font-size:12.2px;color:#e6e6e6;left:86.40px;letter-spacing:0.119px;">MA60</span>
<span class="t" style="top:47.87px;font-size:12.2px;color:#1c9a3c;left:125.00px;">1.032</span>
<span class="t" style="top:47.87px;font-size:12.2px;color:#e6e6e6;left:166.70px;letter-spacing:0.269px;">MA120</span>
<span class="t" style="top:47.87px;font-size:12.2px;color:#2fb4bd;left:212.10px;">0.935</span>
<span class="t" style="top:47.87px;font-size:12.2px;color:#e6e6e6;left:254.50px;letter-spacing:0.394px;">MA250</span>
<span class="t" style="top:47.87px;font-size:12.2px;color:#3a5ed8;left:300.40px;">0.835</span>
<span class="t" style="top:47.70px;font-size:12.4px;color:#e6e6e6;left:520.30px;text-decoration:underline;text-underline-offset:2px;">2025<i style="font-style:normal;padding:0 1.09px">/</i>06<i style="font-style:normal;padding:0 1.09px">/</i>24-2025<i style="font-style:normal;padding:0 1.09px">/</i>12<i style="font-style:normal;padding:0 1.09px">/</i>24(126日)</span>
<span class="t" style="top:73.40px;font-size:12.4px;color:#c4c6ca;left:681.00px;letter-spacing:-0.242px;">1.20</span>
<span class="t" style="top:159.40px;font-size:12.4px;color:#c4c6ca;left:681.00px;letter-spacing:-0.242px;">1.10</span>
<span class="t" style="top:244.40px;font-size:12.4px;color:#c4c6ca;left:681.00px;letter-spacing:-0.242px;">1.00</span>
<span class="t" style="top:329.40px;font-size:12.4px;color:#c4c6ca;left:681.00px;letter-spacing:-0.242px;">0.90</span>
<span class="t" style="top:414.40px;font-size:12.4px;color:#c4c6ca;left:681.00px;letter-spacing:-0.242px;">0.80</span>
<span class="t" style="top:500.40px;font-size:12.4px;color:#c4c6ca;left:681.00px;letter-spacing:-0.242px;">0.70</span>
<span class="t" style="top:595.74px;font-size:12px;color:#c4c6ca;left:680.70px;letter-spacing:-0.051px;">9000万</span>
<span class="t" style="top:633.04px;font-size:12px;color:#c4c6ca;left:680.70px;">0</span>
<span class="t" style="top:652.97px;font-size:12.2px;color:#c4c6ca;left:29.60px;letter-spacing:0.332px;">25-08</span>
<span class="t" style="top:652.97px;font-size:12.2px;color:#c4c6ca;left:162.80px;letter-spacing:0.332px;">25-09</span>
<span class="t" style="top:652.97px;font-size:12.2px;color:#c4c6ca;left:302.00px;letter-spacing:0.332px;">25-10</span>
<span class="t" style="top:652.97px;font-size:12.2px;color:#c4c6ca;left:410.40px;transform:scaleX(1.0738);transform-origin:left 50%;">25-11</span>
<span class="t" style="top:652.97px;font-size:12.2px;color:#c4c6ca;left:536.80px;letter-spacing:0.332px;">25-12</span>
<span class="t" style="top:77.37px;font-size:12.2px;color:#f02c34;left:254.00px;letter-spacing:-0.125px;">1.195</span>
<span class="t" style="top:550.82px;font-size:13.33px;color:#e6e6e6;left:0.20px;">万</span>
<span class="t" style="top:551.77px;font-size:12.2px;color:#ee8a14;left:18.70px;letter-spacing:0.256px;">MA(10): 3113万</span>
<span class="t" style="top:551.77px;font-size:12.2px;color:#c03ccc;left:113.40px;letter-spacing:0.114px;">MA(20): 3389万</span>
<span class="t" style="top:8.90px;font-size:17.6px;color:#f0f0f0;left:760.20px;transform:scaleX(0.9545);transform-origin:left 50%;font-weight:bold;">芯片</span>
<span class="t" style="top:7.63px;font-size:16.5px;color:#f0f0f0;left:795.40px;transform:scaleX(1.0337);transform-origin:left 50%;font-weight:bold;">50ETF</span>
<span class="t" style="top:5.25px;font-size:20.5px;color:#d2d2d4;right:4.00px;transform:scaleX(1.0567);transform-origin:right 50%;">516920</span>
<span class="t" style="top:26.68px;font-size:37px;color:#f5232e;left:756.60px;transform:scaleX(1.0195);transform-origin:left 50%;font-weight:bold;">1.035</span>
<span class="t" style="top:34.32px;font-size:16.4px;color:#f5232e;left:924.60px;transform:scaleX(1.1190);transform-origin:left 50%;font-weight:bold;">+0.011</span>
<span class="t" style="top:34.32px;font-size:16.4px;color:#f5232e;right:4.20px;transform:scaleX(1.0812);transform-origin:right 50%;font-weight:bold;">+1.07%</span>
<span class="t" style="top:60.80px;font-size:12.4px;color:#a4a6aa;left:757.60px;transform:scaleX(0.7945);transform-origin:left 50%;">SSE</span>
<span class="t" style="top:60.80px;font-size:12.4px;color:#a4a6aa;left:786.40px;transform:scaleX(0.9170);transform-origin:left 50%;">CNY</span>
<span class="t" style="top:60.63px;font-size:12.6px;color:#a4a6aa;left:819.80px;transform:scaleX(0.9463);transform-origin:left 50%;">13:18:39</span>
<span class="t" style="top:61.00px;font-size:12.4px;color:#a4a6aa;left:874.60px;transform:scaleX(0.9739);transform-origin:left 50%;">交易中</span>
<span class="t" style="top:61.80px;font-size:12.4px;color:#a4a6aa;left:986.20px;">融</span>
<span class="t" style="top:78.91px;font-size:13.1px;color:#c6c8cc;left:757.90px;">净值走势</span>
<span class="t" style="top:78.91px;font-size:13.1px;color:#e8e8e8;right:11.40px;transform:scaleX(0.9644);transform-origin:right 50%;">汇添富中证芯片产业ETF</span>
<span class="t" style="top:99.31px;font-size:13.1px;color:#c6c8cc;left:757.90px;">委比</span>
<span class="t" style="top:98.35px;font-size:14px;color:#f0282f;right:158.70px;transform:scaleX(0.9477);transform-origin:right 50%;">16.75%</span>
<span class="t" style="top:99.31px;font-size:13.1px;color:#c6c8cc;left:904.40px;">委差</span>
<span class="t" style="top:98.35px;font-size:14px;color:#f0282f;right:9.41px;letter-spacing:-0.009px;">23424</span>
<span class="t" style="top:120.11px;font-size:13.1px;color:#c6c8cc;left:757.90px;">卖五</span>
<span class="t" style="top:119.25px;font-size:14px;color:#f0282f;right:128.39px;letter-spacing:-0.187px;">1.039</span>
<span class="t" style="top:119.25px;font-size:14px;color:#e6e6e6;right:9.71px;letter-spacing:0.288px;">5000</span>
<span class="t" style="top:139.08px;font-size:13.1px;color:#c6c8cc;left:757.90px;">卖四</span>
<span class="t" style="top:138.22px;font-size:14px;color:#f0282f;right:128.39px;letter-spacing:-0.187px;">1.038</span>
<span class="t" style="top:138.22px;font-size:14px;color:#e6e6e6;right:9.71px;letter-spacing:0.288px;">6754</span>
<span class="t" style="top:158.05px;font-size:13.1px;color:#c6c8cc;left:757.90px;">卖三</span>
<span class="t" style="top:157.19px;font-size:14px;color:#f0282f;right:128.39px;letter-spacing:-0.187px;">1.037</span>
<span class="t" style="top:157.19px;font-size:14px;color:#e6e6e6;right:9.78px;letter-spacing:0.216px;">17924</span>
<span class="t" style="top:177.02px;font-size:13.1px;color:#c6c8cc;left:757.90px;">卖二</span>
<span class="t" style="top:176.16px;font-size:14px;color:#f0282f;right:128.39px;letter-spacing:-0.187px;">1.036</span>
<span class="t" style="top:176.16px;font-size:14px;color:#e6e6e6;right:9.78px;letter-spacing:0.216px;">22843</span>
<span class="t" style="top:195.99px;font-size:13.1px;color:#c6c8cc;left:757.90px;">卖一</span>
<span class="t" style="top:195.13px;font-size:14px;color:#f0282f;right:128.39px;letter-spacing:-0.187px;">1.035</span>
<span class="t" style="top:195.13px;font-size:14px;color:#e6e6e6;right:9.71px;letter-spacing:0.288px;">5705</span>
<span class="t" style="top:217.31px;font-size:13.1px;color:#c6c8cc;left:757.90px;">买一</span>
<span class="t" style="top:216.45px;font-size:14px;color:#f0282f;right:128.39px;letter-spacing:-0.187px;">1.034</span>
<span class="t" style="top:216.45px;font-size:14px;color:#e6e6e6;right:10.00px;transform:scaleX(1.0566);transform-origin:right 50%;">50</span>
<span class="t" style="top:236.28px;font-size:13.1px;color:#c6c8cc;left:757.90px;">买二</span>
<span class="t" style="top:235.42px;font-size:14px;color:#f0282f;right:128.39px;letter-spacing:-0.187px;">1.033</span>
<span class="t" style="top:235.42px;font-size:14px;color:#e6e6e6;right:9.78px;letter-spacing:0.216px;">27373</span>
<span class="t" style="top:255.25px;font-size:13.1px;color:#c6c8cc;left:757.90px;">买三</span>
<span class="t" style="top:254.39px;font-size:14px;color:#f0282f;right:128.39px;letter-spacing:-0.187px;">1.032</span>
<span class="t" style="top:254.39px;font-size:14px;color:#e6e6e6;right:9.78px;letter-spacing:0.216px;">30038</span>
<span class="t" style="top:274.22px;font-size:13.1px;color:#c6c8cc;left:757.90px;">买四</span>
<span class="t" style="top:273.36px;font-size:14px;color:#f0282f;right:128.39px;letter-spacing:-0.187px;">1.031</span>
<span class="t" style="top:273.36px;font-size:14px;color:#e6e6e6;right:9.78px;letter-spacing:0.216px;">24023</span>
<span class="t" style="top:293.19px;font-size:13.1px;color:#c6c8cc;left:757.90px;">买五</span>
<span class="t" style="top:292.33px;font-size:14px;color:#f0282f;right:128.39px;letter-spacing:-0.187px;">1.030</span>
<span class="t" style="top:292.33px;font-size:14px;color:#e6e6e6;right:9.56px;letter-spacing:0.440px;">166</span>
<span class="t" style="top:319.31px;font-size:13.1px;color:#c6c8cc;left:757.90px;">总量</span>
<span class="t" style="top:318.25px;font-size:14px;color:#e6e6e6;right:159.00px;">19.31万</span>
<span class="t" style="top:319.31px;font-size:13.1px;color:#c6c8cc;left:904.40px;">换手</span>
<span class="t" style="top:318.25px;font-size:14px;color:#e6e6e6;right:9.60px;">2.59%</span>
<span class="t" style="top:339.36px;font-size:13.1px;color:#c6c8cc;left:757.90px;">现手</span>
<span class="t" style="top:338.30px;font-size:14px;color:#e6e6e6;right:159.00px;">98</span>
<span class="t" style="top:339.36px;font-size:13.1px;color:#c6c8cc;left:904.40px;">量比</span>
<span class="t" style="top:338.30px;font-size:14px;color:#e6e6e6;right:9.60px;">1.02</span>
<span class="t" style="top:359.41px;font-size:13.1px;color:#c6c8cc;left:757.90px;">外盘</span>
<span class="t" style="top:358.35px;font-size:14px;color:#f0282f;right:159.00px;">8.31万</span>
<span class="t" style="top:359.41px;font-size:13.1px;color:#c6c8cc;left:904.40px;">内盘</span>
<span class="t" style="top:358.35px;font-size:14px;color:#22a83e;right:9.60px;">11.01万</span>
<span class="t" style="top:379.46px;font-size:13.1px;color:#c6c8cc;left:757.90px;">总额</span>
<span class="t" style="top:378.40px;font-size:14px;color:#e6e6e6;right:159.00px;">1989.19万</span>
<span class="t" style="top:379.46px;font-size:13.1px;color:#c6c8cc;left:904.40px;">振幅</span>
<span class="t" style="top:378.40px;font-size:14px;color:#e6e6e6;right:9.60px;">1.46%</span>
<span class="t" style="top:399.51px;font-size:13.1px;color:#c6c8cc;left:757.90px;">均价</span>
<span class="t" style="top:398.45px;font-size:14px;color:#f0282f;right:159.00px;">1.030</span>
<span class="t" style="top:399.51px;font-size:13.1px;color:#c6c8cc;left:904.40px;">开盘</span>
<span class="t" style="top:398.45px;font-size:14px;color:#f0282f;right:9.60px;">1.025</span>
<span class="t" style="top:419.56px;font-size:13.1px;color:#c6c8cc;left:757.90px;">最高</span>
<span class="t" style="top:418.50px;font-size:14px;color:#f0282f;right:159.00px;">1.036</span>
<span class="t" style="top:419.56px;font-size:13.1px;color:#c6c8cc;left:904.40px;">最低</span>
<span class="t" style="top:418.50px;font-size:14px;color:#22a83e;right:9.60px;">1.021</span>
<span class="t" style="top:439.61px;font-size:13.1px;color:#c6c8cc;left:757.90px;">涨停</span>
<span class="t" style="top:438.55px;font-size:14px;color:#f0282f;right:159.00px;">1.126</span>
<span class="t" style="top:439.61px;font-size:13.1px;color:#c6c8cc;left:904.40px;">跌停</span>
<span class="t" style="top:438.55px;font-size:14px;color:#22a83e;right:9.60px;">0.922</span>
<span class="t" style="top:459.35px;font-size:14px;color:#c6c8cc;left:757.90px;">IOPV</span>
<span class="t" style="top:459.05px;font-size:14px;color:#e6e6e6;right:160.60px;">1.0350</span>
<span class="t" style="top:460.11px;font-size:13.1px;color:#c6c8cc;left:908.30px;">溢折率</span>
<span class="t" style="top:459.05px;font-size:14px;color:#e6e6e6;right:9.60px;">-</span>
<span class="t" style="top:479.81px;font-size:13.1px;color:#c6c8cc;left:757.90px;">净值</span>
<span class="t" style="top:478.75px;font-size:14px;color:#f0282f;right:160.60px;">1.0261</span>
<span class="t" style="top:479.81px;font-size:13.1px;color:#c6c8cc;left:908.30px;">升贴水率</span>
<span class="t" style="top:478.75px;font-size:14px;color:#f0282f;right:9.60px;">0.87%</span>
<span class="t" style="top:499.51px;font-size:13.1px;color:#c6c8cc;left:757.90px;">流通盘</span>
<span class="t" style="top:498.45px;font-size:14px;color:#e6e6e6;right:160.60px;">7.47亿</span>
<span class="t" style="top:499.51px;font-size:13.1px;color:#c6c8cc;left:908.30px;">流通值</span>
<span class="t" style="top:498.45px;font-size:14px;color:#e6e6e6;right:9.60px;">7.7亿</span>
<span class="t" style="top:520.55px;font-size:14px;color:#c8cacc;left:757.90px;letter-spacing:-0.214px;">13:15:09</span>
<span class="t" style="top:520.55px;font-size:14px;color:#f0282f;right:126.69px;letter-spacing:-0.287px;">1.035</span>
<span class="t" style="top:520.55px;font-size:14px;color:#22a83e;right:8.40px;">50</span>
<span class="t" style="top:540.35px;font-size:14px;color:#c8cacc;left:757.90px;letter-spacing:-0.214px;">13:15:18</span>
<span class="t" style="top:540.35px;font-size:14px;color:#f0282f;right:126.69px;letter-spacing:-0.287px;">1.035</span>
<span class="t" style="top:540.35px;font-size:14px;color:#22a83e;right:8.40px;">11</span>
<span class="t" style="top:560.35px;font-size:14px;color:#c8cacc;left:757.90px;letter-spacing:-0.214px;">13:15:21</span>
<span class="t" style="top:560.35px;font-size:14px;color:#f0282f;right:126.69px;letter-spacing:-0.287px;">1.035</span>
<span class="t" style="top:560.35px;font-size:14px;color:#22a83e;right:8.40px;">382</span>
<span class="t" style="top:580.45px;font-size:14px;color:#c8cacc;left:757.90px;letter-spacing:-0.214px;">13:15:24</span>
<span class="t" style="top:580.45px;font-size:14px;color:#f0282f;right:126.69px;letter-spacing:-0.287px;">1.035</span>
<span class="t" style="top:580.45px;font-size:14px;color:#f0282f;right:8.40px;">85</span>
<span class="t" style="top:600.75px;font-size:14px;color:#c8cacc;left:757.90px;letter-spacing:-0.214px;">13:16:24</span>
<span class="t" style="top:600.75px;font-size:14px;color:#f0282f;right:126.69px;letter-spacing:-0.287px;">1.034</span>
<span class="t" style="top:600.75px;font-size:14px;color:#22a83e;right:8.40px;">491</span>
<span class="t" style="top:620.55px;font-size:14px;color:#c8cacc;left:757.90px;letter-spacing:-0.214px;">13:16:51</span>
<span class="t" style="top:620.55px;font-size:14px;color:#f0282f;right:126.69px;letter-spacing:-0.287px;">1.034</span>
<span class="t" style="top:620.55px;font-size:14px;color:#f0282f;right:8.40px;">10</span>
<span class="t" style="top:641.15px;font-size:14px;color:#c8cacc;left:757.90px;letter-spacing:-0.214px;">13:18:15</span>
<span class="t" style="top:641.15px;font-size:14px;color:#f0282f;right:126.69px;letter-spacing:-0.287px;">1.035</span>
<span class="t" style="top:641.15px;font-size:14px;color:#f0282f;right:8.40px;">98</span>
<svg style="position:absolute;left:670.2px;top:2px" width="18" height="18" viewBox="-9 -9 18 18"><g fill="none" stroke="#d4d4d8" stroke-width="1.25" stroke-linejoin="round"><circle r="2.5"/><path d="M1.81 -4.98L1.46 -6.85L-1.46 -6.85L-1.81 -4.98L-3.41 -4.06L-5.20 -4.68L-6.66 -2.16L-5.22 -0.92L-5.22 0.92L-6.66 2.16L-5.20 4.68L-3.41 4.06L-1.81 4.98L-1.46 6.85L1.46 6.85L1.81 4.98L3.41 4.06L5.20 4.68L6.66 2.16L5.22 0.92L5.22 -0.92L6.66 -2.16L5.20 -4.68L3.41 -4.06Z"/></g></svg>
<svg style="position:absolute;left:696px;top:2px" width="18" height="18" viewBox="-9 -9 18 18"><circle r="6.8" fill="none" stroke="#d0d0d4" stroke-width="1.1"/><text x="0" y="3.8" font-family="Liberation Sans,sans-serif" font-size="10.5" fill="#d0d0d4" text-anchor="middle">?</text></svg>
<svg style="position:absolute;left:722px;top:4px" width="12" height="14" viewBox="0 0 12 14"><path d="M3.5 2.5l5 4.5-5 4.5" fill="none" stroke="#d0d0d4" stroke-width="1.2"/></svg>
<svg style="position:absolute;left:719px;top:23px" width="20" height="18" viewBox="0 0 20 18"><rect x="2.5" y="2.5" width="15" height="10" fill="none" stroke="#a2a4a8" stroke-width="1"/><text x="14" y="10.8" font-family="Liberation Sans,sans-serif" font-size="6.5" fill="#c8c8cc" text-anchor="middle">P</text><path d="M4.5 16.5h11" stroke="#8a8c92" stroke-width="1"/><path d="M11 14.5h8" stroke="#e02020" stroke-width="1" stroke-dasharray="1.5 1"/></svg>
<svg style="position:absolute;left:698px;top:46px" width="16" height="13" viewBox="0 0 16 13"><path d="M1 1.3h13.6L7.8 11.8z" fill="#8f9096"/></svg>
<svg style="position:absolute;left:718px;top:44px" width="20" height="18" viewBox="0 0 20 18"><path d="M11.2 7.8V6.2a3 3 0 0 1 6 0V7.2" fill="none" stroke="#f3b62c" stroke-width="1.2"/><rect x="1.8" y="8" width="10.4" height="8" fill="#f3b62c"/><rect x="5.8" y="9.6" width="2.4" height="4.6" rx="1" fill="#5a4a1a"/></svg>
<svg style="position:absolute;left:852px;top:6px" width="18" height="18" viewBox="-9 -9 18 18"><circle r="7.6" fill="none" stroke="#a8aaae" stroke-width="1.1"/><path d="M0 -4.2v5" stroke="#a8aaae" stroke-width="1.4"/><circle cy="3.4" r=".9" fill="#a8aaae"/></svg>
<div style="position:absolute;left:1004px;top:60px;width:12px;height:12px;background:#2a2b32;border-radius:2px"></div>
<div style="position:absolute;left:1022px;top:60px;width:12px;height:12px;background:#2a2b32;border-radius:2px"></div>
<div style="position:absolute;left:1040px;top:60px;width:12px;height:12px;background:#2a2b32;border-radius:2px"></div>
<svg style="position:absolute;left:1004px;top:60px" width="12" height="12" viewBox="0 0 12 12"><path d="M1.8 10.2l.5-2.6 5.4-5.4 2.1 2.1-5.4 5.4z" fill="#3ec4dc"/></svg>
<svg style="position:absolute;left:1022px;top:60px" width="12" height="12" viewBox="0 0 12 12"><path d="M6 1.6c-2.1 0-3.2 1.6-3.2 3.5v2.3l-.9 1.5h8.2l-.9-1.5V5.1c0-1.9-1.1-3.5-3.2-3.5z" fill="#3ec4dc"/><rect x="5" y="9.2" width="2" height="1.2" fill="#3ec4dc"/></svg>
<svg style="position:absolute;left:1040px;top:60px" width="12" height="12" viewBox="0 0 12 12"><path d="M6 2.2v7.6M2.2 6h7.6" stroke="#3ec4dc" stroke-width="1.7" fill="none"/></svg>
<svg style="position:absolute;left:933px;top:603px" width="10" height="10" viewBox="0 0 10 10"><path d="M3.1 .3h3.3v4.3h2.8L4.7 9.6 .2 4.6h2.9z" fill="#22a83e"/></svg>
<svg style="position:absolute;left:933px;top:643px" width="10" height="10" viewBox="0 0 10 10"><path d="M3.1 9.7h3.3V5.4h2.8L4.7 .4 .2 5.4h2.9z" fill="#f0282f"/></svg>
<svg style="position:absolute;left:75.4px;top:46px" width="6" height="13" viewBox="0 0 6 13"><path d="M3 12V1.5M.8 4.2L3 1.3l2.2 2.9" fill="none" stroke="#c03ccc" stroke-width="1.1"/></svg>
<svg style="position:absolute;left:155.8px;top:46px" width="6" height="13" viewBox="0 0 6 13"><path d="M3 1v10.5M.8 8.8L3 11.7l2.2-2.9" fill="none" stroke="#1c9a3c" stroke-width="1.1"/></svg>
<svg style="position:absolute;left:243.0px;top:46px" width="6" height="13" viewBox="0 0 6 13"><path d="M3 12V1.5M.8 4.2L3 1.3l2.2 2.9" fill="none" stroke="#2fb4bd" stroke-width="1.1"/></svg>
<svg style="position:absolute;left:331.3px;top:46px" width="6" height="13" viewBox="0 0 6 13"><path d="M3 12V1.5M.8 4.2L3 1.3l2.2 2.9" fill="none" stroke="#3a5ed8" stroke-width="1.1"/></svg>
</body></html>
